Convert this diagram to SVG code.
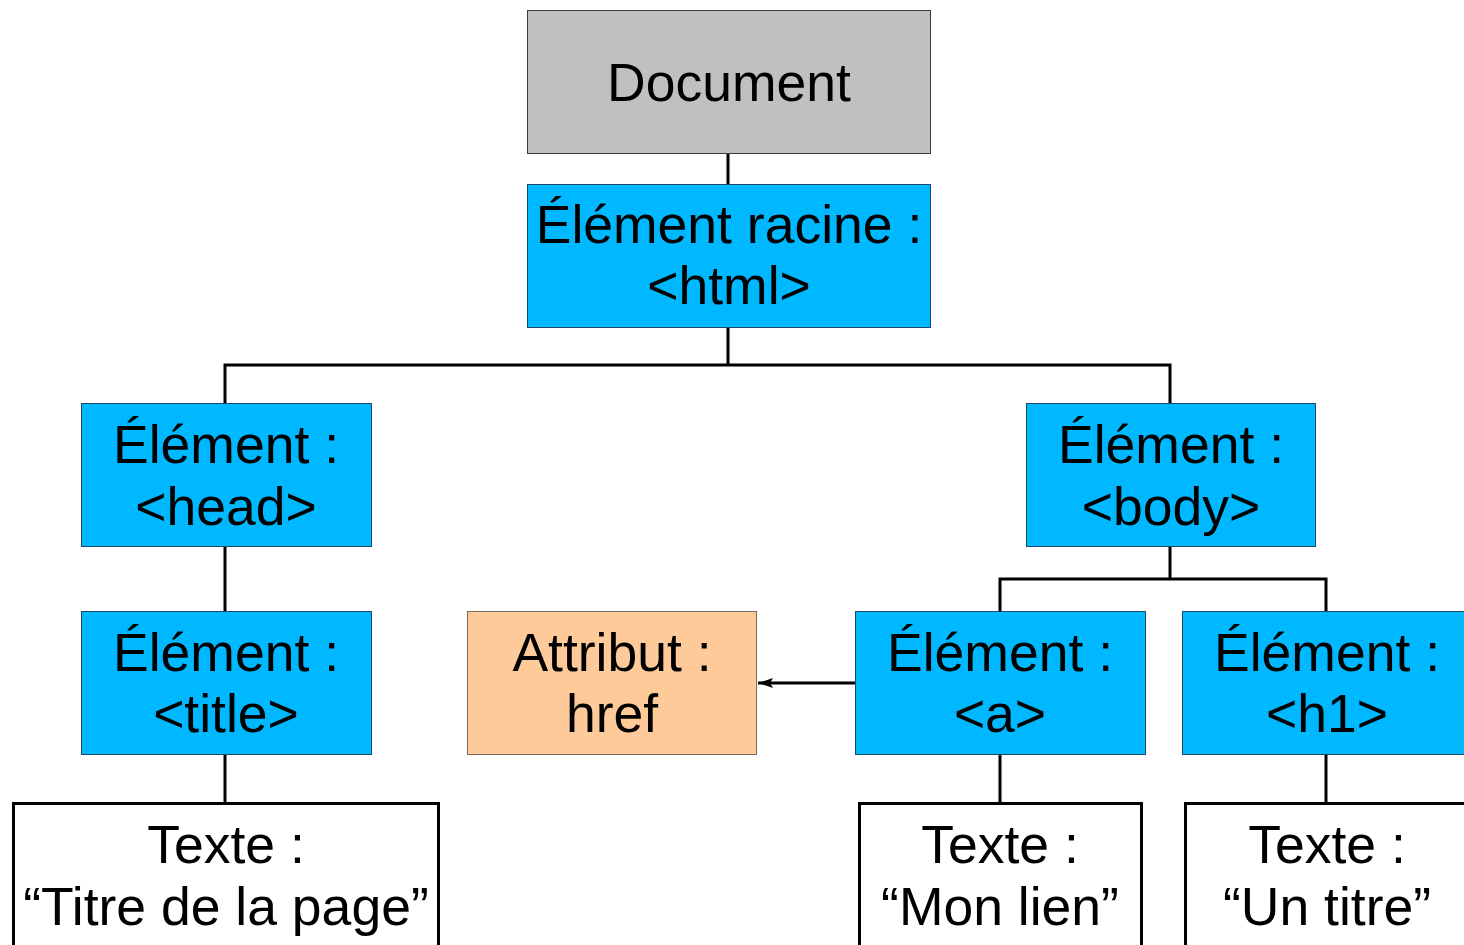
<svg xmlns="http://www.w3.org/2000/svg" width="1464" height="945" viewBox="0 0 1464 945">
<style>
text{font-family:"Liberation Sans",Arial,sans-serif;font-size:53.5px;fill:#000;text-anchor:middle}
.doc{fill:#C0C0C0;stroke:#3a3a3a;stroke-width:1}
.el{fill:#00B8FF;stroke:#1a4a66;stroke-width:1}
.at{fill:#FFCA99;stroke:#7a6a5a;stroke-width:1}
.tx{fill:#fff;stroke:#000;stroke-width:3}
.c{fill:none;stroke:#000;stroke-width:3}
</style>
<defs>
<marker id="ah" markerWidth="16" markerHeight="12" refX="15" refY="6" orient="auto" markerUnits="userSpaceOnUse">
<path d="M0,1 L15,6 L0,11 L3,6 Z" fill="#000"/>
</marker>
</defs>
<g id="connectors">
<path class="c" d="M728,153 V184"/>
<path class="c" d="M728,327 V365 M225,403 V365 H1170 V403"/>
<path class="c" d="M225,546 V611"/>
<path class="c" d="M225,754 V803"/>
<path class="c" d="M1170,546 V579 M1000,611 V579 H1326 V611"/>
<path class="c" d="M1000,754 V803"/>
<path class="c" d="M1326,754 V803"/>
<path class="c" d="M855,683 H758" marker-end="url(#ah)"/>
</g>
<g id="document"><rect class="doc" x="527.5" y="10.5" width="403" height="143"/><text x="729" y="101">Document</text></g>
<g id="html"><rect class="el" x="527.5" y="184.5" width="403" height="143"/><text x="729" y="243">Élément racine :</text><text x="729" y="304">&lt;html&gt;</text></g>
<g id="head"><rect class="el" x="81.5" y="403.5" width="290" height="143"/><text x="226" y="463">Élément :</text><text x="226" y="525">&lt;head&gt;</text></g>
<g id="body"><rect class="el" x="1026.5" y="403.5" width="289" height="143"/><text x="1171" y="463">Élément :</text><text x="1171" y="525">&lt;body&gt;</text></g>
<g id="title"><rect class="el" x="81.5" y="611.5" width="290" height="143"/><text x="226" y="671">Élément :</text><text x="226" y="732">&lt;title&gt;</text></g>
<g id="href"><rect class="at" x="467.5" y="611.5" width="289" height="143"/><text x="612" y="671">Attribut :</text><text x="612" y="732">href</text></g>
<g id="a"><rect class="el" x="855.5" y="611.5" width="290" height="143"/><text x="1000" y="671">Élément :</text><text x="1000" y="732">&lt;a&gt;</text></g>
<g id="h1"><rect class="el" x="1182.5" y="611.5" width="290" height="143"/><text x="1327" y="671">Élément :</text><text x="1327" y="732">&lt;h1&gt;</text></g>
<g id="text-title"><rect class="tx" x="13.5" y="803.5" width="425" height="160"/><text x="226" y="863">Texte :</text><text x="226" y="925">“Titre de la page”</text></g>
<g id="text-a"><rect class="tx" x="859.5" y="803.5" width="282" height="160"/><text x="1000" y="863">Texte :</text><text x="1000" y="925">“Mon lien”</text></g>
<g id="text-h1"><rect class="tx" x="1185.5" y="803.5" width="300" height="160"/><text x="1327" y="863">Texte :</text><text x="1327" y="925">“Un titre”</text></g>
</svg>
